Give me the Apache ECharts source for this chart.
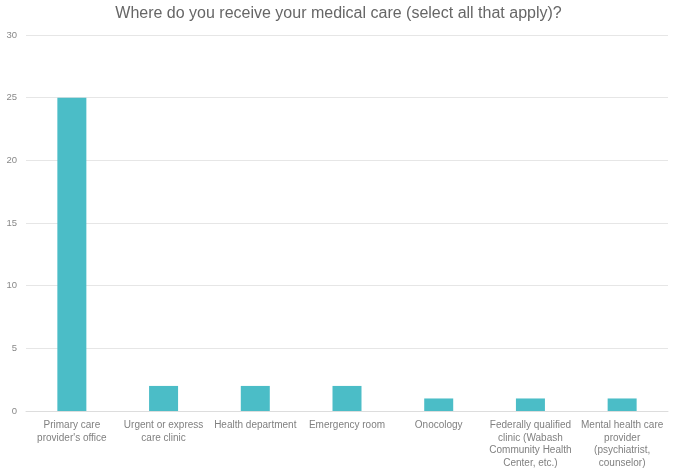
<!DOCTYPE html>
<html><head><meta charset="utf-8">
<script src="https://cdn.jsdelivr.net/npm/echarts@6/dist/echarts.min.js"></script>
<style>html,body{margin:0;padding:0;background:#fff}#c{width:677px;height:470px}</style>
</head><body><div id="c"></div>
<script>
const title = "Where do you receive your medical care (select all that apply)?";
const categories = [
  "Primary care\nprovider's office",
  "Urgent or express\ncare clinic",
  "Health department",
  "Emergency room",
  "Onocology",
  "Federally qualified\nclinic (Wabash\nCommunity Health\nCenter, etc.)",
  "Mental health care\nprovider\n(psychiatrist,\ncounselor)"
];
const values = [25, 2, 2, 2, 1, 1, 1];
const yTicks = { min: 0, max: 30, interval: 5 };

const chart = echarts.init(document.getElementById('c'));
chart.setOption({
  animation: false,
  title: { text: title, left: 'center', top: 1,
    textStyle: { fontFamily: 'Liberation Sans, Arial', fontSize: 16, fontWeight: 'normal', color: '#666' } },
  grid: { left: 26, right: 9, top: 35, bottom: 59 },
  xAxis: { type: 'category', data: categories,
    axisLine: { lineStyle: { color: '#ddd' } }, axisTick: { show: false },
    axisLabel: { interval: 0, color: '#808080', fontSize: 10, fontFamily: 'Liberation Sans, Arial', lineHeight: 12.5, margin: 8 } },
  yAxis: { type: 'value', min: yTicks.min, max: yTicks.max, interval: yTicks.interval,
    axisLine: { show: false }, axisTick: { show: false },
    splitLine: { lineStyle: { color: '#e6e6e6' } },
    axisLabel: { color: '#888', fontSize: 9.5, fontFamily: 'Liberation Sans, Arial', margin: 9 } },
  series: [{ type: 'bar', data: values, barWidth: 29, itemStyle: { color: '#4BBDC7' } }]
});
</script></body></html>
